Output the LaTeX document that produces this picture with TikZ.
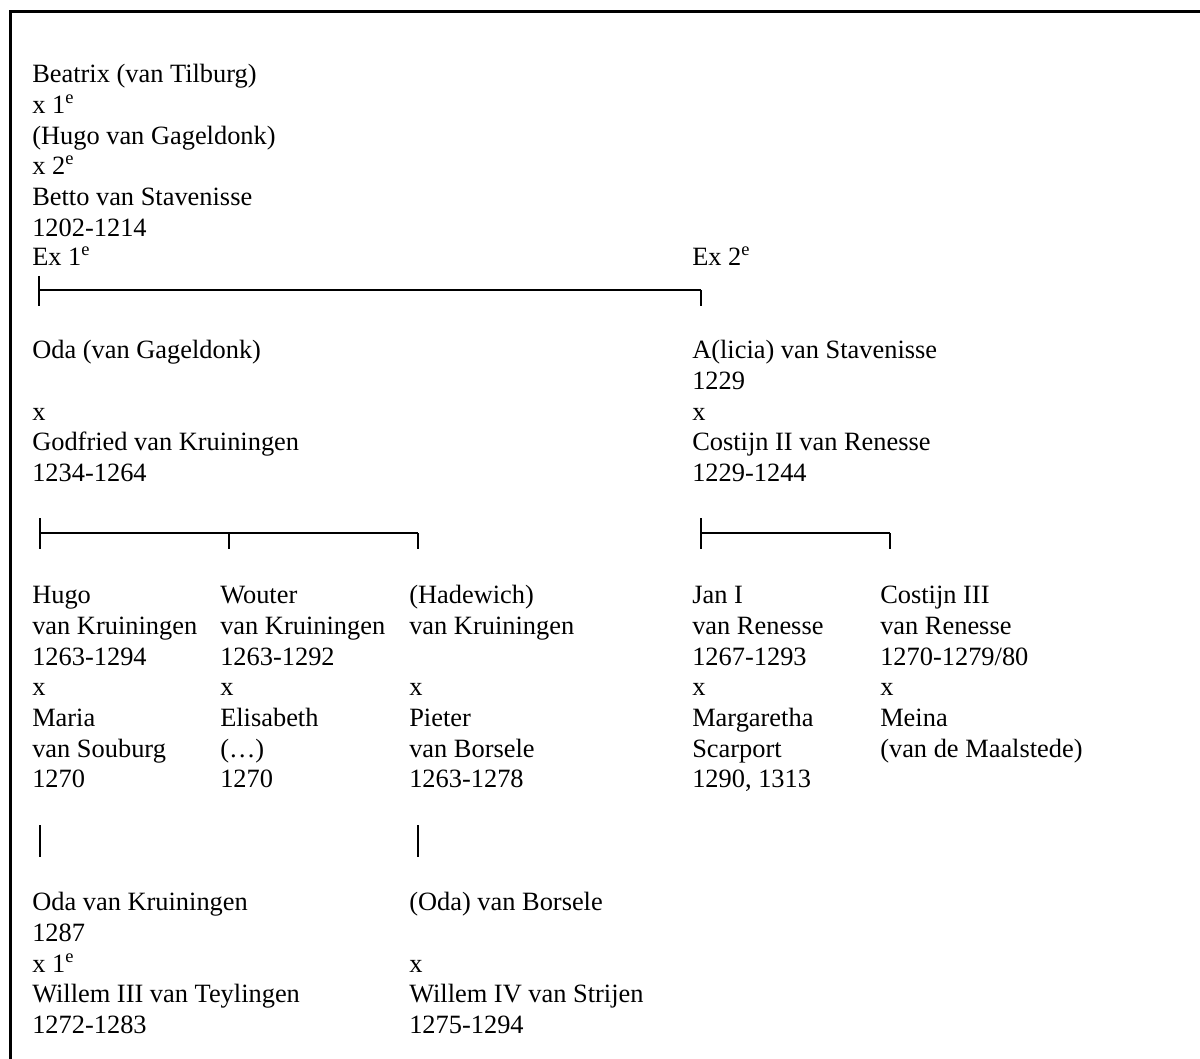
\documentclass[tikz,border=0pt]{standalone}
\usepackage{fontspec}
\setmainfont{Liberation Serif}
\newcommand{\ee}{\textsuperscript{e}}
\begin{document}
\begin{tikzpicture}
		[x=0.75pt, y=-0.75pt,
		every node/.style={inner sep=0pt, anchor=north west, align=left, font=\fontsize{19.8}{23}\selectfont},
		famline/.style={line width=1.5pt}]
		\useasboundingbox (0,0) rectangle (1200,1059);
		\draw[line width=2.25pt] (10.5,1059) -- (10.5,11.5) -- (1200,11.5);
		
		% first generation
		\node (beatrix) at (32,61) {\strut Beatrix (van Tilburg)\\x 1\ee\\(Hugo van Gageldonk)\\x 2\ee\\Betto van Stavenisse\\1202-1214};
		\node (ex1) at (32,244) {\strut Ex 1\ee};
		\node (ex2) at (692,244) {\strut Ex 2\ee};
		\coordinate (t1) at (39,276);
		\coordinate (l1) at (39,290);
		\coordinate (r1) at (701,290);
		\coordinate (d1a) at (39,306);
		\coordinate (d1b) at (701,306);
		\path (t1) edge[famline] (d1a);
		\path (l1) edge[famline] (r1);
		\path (r1) edge[famline] (d1b);
		
		% second generation
		\node (oda) at (32,337) {\strut Oda (van Gageldonk)\\~\\x\\Godfried van Kruiningen\\1234-1264};
		\node (alicia) at (692,337) {\strut A(licia) van Stavenisse\\1229\\x\\Costijn II van Renesse\\1229-1244};
		\coordinate (t2) at (40,518);
		\coordinate (l2) at (40,533);
		\coordinate (m2) at (229,533);
		\coordinate (r2) at (418,533);
		\coordinate (d2a) at (40,549);
		\coordinate (d2b) at (229,549);
		\coordinate (d2c) at (418,549);
		\path (t2) edge[famline] (d2a);
		\path (l2) edge[famline] (r2);
		\path (m2) edge[famline] (d2b);
		\path (r2) edge[famline] (d2c);
		\coordinate (t3) at (701,518);
		\coordinate (l3) at (701,533);
		\coordinate (r3) at (890,533);
		\coordinate (d3a) at (701,549);
		\coordinate (d3b) at (890,549);
		\path (t3) edge[famline] (d3a);
		\path (l3) edge[famline] (r3);
		\path (r3) edge[famline] (d3b);
		
		% third generation
		\node (hugo) at (32,582) {\strut Hugo\\van Kruiningen\\1263-1294\\x\\Maria\\van Souburg\\1270};
		\node (wouter) at (220,582) {\strut Wouter\\van Kruiningen\\1263-1292\\x\\Elisabeth\\(\dots)\\1270};
		\node (hadewich) at (409,582) {\strut (Hadewich)\\van Kruiningen\\~\\x\\Pieter\\van Borsele\\1263-1278};
		\node (jan) at (692,582) {\strut Jan I\\van Renesse\\1267-1293\\x\\Margaretha\\Scarport\\1290, 1313};
		\node (costijn) at (880,582) {\strut Costijn III\\van Renesse\\1270-1279/80\\x\\Meina\\(van de Maalstede)};
		\coordinate (u1) at (40,825);
		\coordinate (v1) at (40,857);
		\coordinate (u2) at (418,825);
		\coordinate (v2) at (418,857);
		\path (u1) edge[famline] (v1);
		\path (u2) edge[famline] (v2);
		
		% fourth generation
		\node (odak) at (32,889) {\strut Oda van Kruiningen\\1287\\x 1\ee\\Willem III van Teylingen\\1272-1283};
		\node (odab) at (409,889) {\strut (Oda) van Borsele\\~\\x\\Willem IV van Strijen\\1275-1294};
		\end{tikzpicture}
\end{document}
